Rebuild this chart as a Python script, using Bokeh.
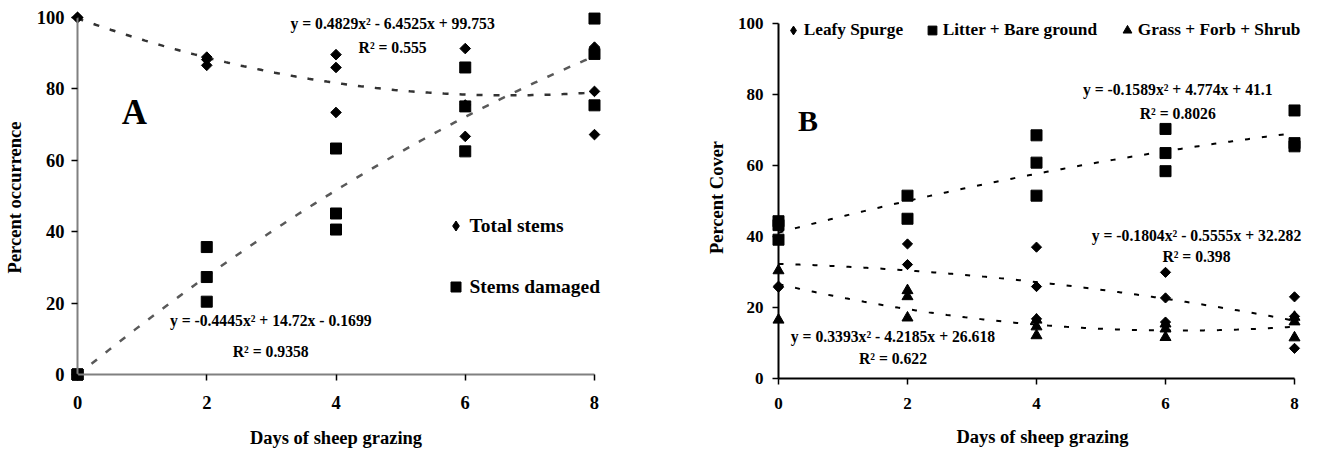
import numpy as np
from bokeh.plotting import figure
from bokeh.models import Range1d, FixedTicker, Label, Legend, LegendItem, LinearAxis
from bokeh.layouts import row
from bokeh.embed import file_html
from bokeh.resources import INLINE

FONT = "Liberation Serif"

# ---------------- Panel A data ----------------
a_x = [0, 0, 0, 2, 2, 2, 4, 4, 4, 6, 6, 6, 8, 8, 8]
a_total = [100, 100, 100, 88.9, 88.2, 86.6, 89.6, 86.0, 73.4, 91.3, 75.5, 66.7, 91.7, 79.3, 67.2]
a_damaged = [0, 0, 0, 35.7, 27.3, 20.4, 63.3, 45.1, 40.6, 86.0, 75.1, 62.5, 99.7, 89.8, 75.4]
a_total_coef = [0.4829, -6.4525, 99.753]
a_damaged_coef = [-0.4445, 14.72, -0.1699]
a_x_ticks = [0, 2, 4, 6, 8]
a_y_ticks = [0, 20, 40, 60, 80, 100]

# ---------------- Panel B data ----------------
b_leafy_x = [0, 0, 2, 2, 4, 4, 4, 6, 6, 6, 8, 8, 8]
b_leafy = [25.7, 26.0, 37.9, 32.1, 37.0, 25.9, 16.8, 29.9, 22.7, 15.9, 23.0, 17.5, 8.5]
b_litter_x = [0, 0, 0, 2, 2, 4, 4, 4, 6, 6, 6, 8, 8, 8]
b_litter = [44.3, 43.2, 39.1, 51.5, 45.0, 68.5, 60.8, 51.5, 70.3, 63.5, 58.4, 75.5, 66.3, 65.4]
b_grass_x = [0, 0, 2, 2, 2, 4, 4, 4, 6, 6, 6, 8, 8, 8]
b_grass = [30.4, 16.5, 24.8, 23.1, 17.1, 16.5, 14.6, 12.1, 15.4, 14.0, 11.6, 17.3, 16.0, 11.5]
b_litter_coef = [-0.1589, 4.774, 41.1]
b_leafy_coef = [-0.1804, -0.5555, 32.282]
b_grass_coef = [0.3393, -4.2185, 26.618]
b_x_ticks = [0, 2, 4, 6, 8]
b_y_ticks = [0, 20, 40, 60, 80, 100]

xs = np.linspace(0, 8, 200)
NAN = [float("nan")]


def style_axes(p, xt, yt, axis_color, tick_size, sy, sx, lab_sx, lab_sy):
    p.xgrid.visible = False
    p.ygrid.visible = False
    p.outline_line_color = None
    # label-only axes at the frame edges
    lx, ly = p.below[0], p.left[0]
    lx.ticker = FixedTicker(ticks=xt)
    ly.ticker = FixedTicker(ticks=yt)
    for ax in (lx, ly):
        ax.axis_line_color = None
        ax.major_tick_line_color = None
        ax.minor_tick_line_color = None
        ax.major_tick_out = 0
        ax.major_tick_in = 0
        ax.major_label_text_font = FONT
        ax.major_label_text_font_style = "bold"
        ax.major_label_text_font_size = tick_size
        ax.major_label_text_color = "black"
        ax.axis_label_text_font = FONT
        ax.axis_label_text_font_style = "bold"
        ax.axis_label_text_font_size = "18.5px"
        ax.axis_label_text_color = "black"
    ly.major_label_standoff = sy
    lx.major_label_standoff = sx
    lx.axis_label_standoff = lab_sx
    ly.axis_label_standoff = lab_sy
    # line + tick axes fixed at zero
    fx = LinearAxis(fixed_location=0, ticker=FixedTicker(ticks=xt), bounds=(0, 8))
    fy = LinearAxis(fixed_location=0, ticker=FixedTicker(ticks=yt), bounds=(0, 100))
    for ax in (fx, fy):
        ax.axis_line_color = axis_color
        ax.axis_line_width = 2
        ax.major_tick_line_color = "black"
        ax.major_tick_line_width = 1.5
        ax.major_tick_out = 6
        ax.major_tick_in = 0
        ax.minor_tick_line_color = None
        ax.major_label_text_color = None
    p.add_layout(fx, "below")
    p.add_layout(fy, "left")


def add_text(p, x, y, txt, size):
    p.add_layout(Label(x=x, y=y, text=txt, text_align="center", text_baseline="middle",
                       text_font=FONT, text_font_style="bold", text_font_size=size,
                       text_color="black"))


def make_legend(items, loc, glyph, size, spacing=0, standoff=0):
    return Legend(items=items, location=loc, orientation="vertical",
                  border_line_color=None, background_fill_alpha=0, padding=0, margin=0,
                  spacing=spacing, glyph_height=glyph, glyph_width=glyph, label_height=glyph,
                  label_standoff=standoff, label_text_font=FONT, label_text_font_style="bold",
                  label_text_font_size=size, label_text_color="black")


# ================= Panel A =================
pA = figure(width=660, height=450, output_backend="svg", toolbar_location=None, title=None,
            x_range=Range1d(-0.124, 8.124), y_range=Range1d(-3.08, 102.24),
            min_border_left=69, min_border_right=58, min_border_top=9, min_border_bottom=65,
            x_axis_label="Days of sheep grazing", y_axis_label="Percent occurrence")
style_axes(pA, a_x_ticks, a_y_ticks, "#808080", "18.5px", 5, 10, 16, 9)

pA.line(xs, np.polyval(a_total_coef, xs), line_color="#333333", line_width=2.5, line_dash="6 11")
pA.line(xs, np.polyval(a_damaged_coef, xs), line_color="#595959", line_width=2.5, line_dash="7 11")
pA.scatter(a_x, a_total, marker="square", angle=np.pi / 4, size=7.5, color="black")
ra2 = pA.scatter(a_x, a_damaged, marker="square", size=11, color="black")

la1 = pA.scatter(NAN, NAN, marker="diamond", color="black")
pA.add_layout(make_legend([LegendItem(label="Total stems", renderers=[la1]),
                           LegendItem(label="Stems damaged", renderers=[ra2])],
                          (373.5, 85.8), 25, "19.5px", spacing=36, standoff=2))

add_text(pA, 0.88, 73.4, "A", "35px")
add_text(pA, 4.876, 98.3, "y = 0.4829x² - 6.4525x + 99.753", "15.7px")
add_text(pA, 4.876, 91.6, "R² = 0.555", "15.7px")
add_text(pA, 2.99, 15.1, "y = -0.4445x² + 14.72x - 0.1699", "15.7px")
add_text(pA, 2.99, 6.5, "R² = 0.9358", "15.7px")

# ================= Panel B =================
pB = figure(width=659, height=450, output_backend="svg", toolbar_location=None, title=None,
            x_range=Range1d(-0.124, 8.31), y_range=Range1d(-1.97, 103.94),
            min_border_left=110, min_border_right=5, min_border_top=9, min_border_bottom=65,
            x_axis_label="Days of sheep grazing", y_axis_label="Percent Cover")
style_axes(pB, b_x_ticks, b_y_ticks, "black", "17px", 7, 12, 15, 8)

pB.line(xs, np.polyval(b_litter_coef, xs), line_color="black", line_width=2, line_dash="5 12")
pB.line(xs, np.polyval(b_leafy_coef, xs), line_color="black", line_width=2, line_dash="5 12")
pB.line(xs, np.polyval(b_grass_coef, xs), line_color="black", line_width=2, line_dash="5 12")
rb2 = pB.scatter(b_litter_x, b_litter, marker="square", size=11, color="black")
rb3 = pB.scatter(b_grass_x, b_grass, marker="triangle", size=11, color="black")
pB.scatter(b_leafy_x, b_leafy, marker="square", angle=np.pi / 4, size=7.2, color="black")

lb1 = pB.scatter(NAN, NAN, marker="diamond", color="black")
pB.add_layout(make_legend([LegendItem(label="Leafy Spurge", renderers=[lb1])],
                          (11.7, 344), 22, "17.3px"))
pB.add_layout(make_legend([LegendItem(label="Litter + Bare ground", renderers=[rb2])],
                          (150.7, 344), 22, "17.3px"))
pB.add_layout(make_legend([LegendItem(label="Grass + Forb + Shrub", renderers=[rb3])],
                          (345.7, 344), 22, "17.3px"))

add_text(pB, 0.457, 72.8, "B", "30px")
add_text(pB, 6.19, 81.3, "y = -0.1589x² + 4.774x + 41.1", "15.7px")
add_text(pB, 6.19, 74.7, "R² = 0.8026", "15.7px")
add_text(pB, 6.48, 40.3, "y = -0.1804x² - 0.5555x + 32.282", "15.7px")
add_text(pB, 6.48, 34.4, "R² = 0.398", "15.7px")
add_text(pB, 1.775, 11.8, "y = 0.3393x² - 4.2185x + 26.618", "15.7px")
add_text(pB, 1.775, 5.5, "R² = 0.622", "15.7px")

layout = row(pA, pB)
open("out.html", "w").write(file_html(layout, INLINE))
